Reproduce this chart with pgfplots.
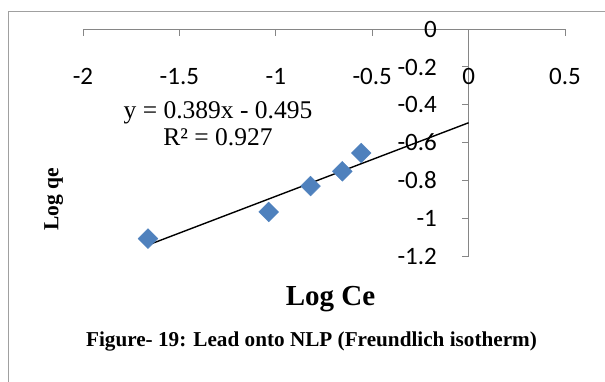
\documentclass[border=0pt]{standalone}
\usepackage{fontspec}
\setmainfont{Liberation Serif}
\newfontfamily\calibri{Carlito}
\usepackage{pgfplots}
\pgfplotsset{compat=1.18}
\definecolor{excelblue}{HTML}{4F81BD}
\definecolor{axisgray}{HTML}{868686}
\definecolor{framegray}{HTML}{A0A0A0}
\begin{document}
\begin{tikzpicture}[x=1pt,y=1pt]
\useasboundingbox (0,0) rectangle (605,381);
\draw[framegray, line width=1.5pt] (8.3,369.3) rectangle (660,-60);
\begin{axis}[
  at={(83pt,125pt)}, anchor=south west,
  scale only axis, width=482pt, height=226.8pt,
  xmin=-2, xmax=0.5, ymin=-1.2, ymax=0,
  axis lines=middle,
  hide obscured x ticks=false, hide obscured y ticks=false,
  axis line style={draw=axisgray, line width=1pt, -},
  xtick={-2,-1.5,-1,-0.5,0,0.5},
  xticklabels={-2,-1.5,-1,-0.5,0,0.5},
  ytick={0,-0.2,-0.4,-0.6,-0.8,-1,-1.2},
  yticklabels={0,-0.2,-0.4,-0.6,-0.8,-1,-1.2},
  tick style={draw=axisgray, line width=1pt},
  major tick length=6.5pt,
  tick align=outside,
  xticklabel style={font=\calibri\fontsize{25}{25}\selectfont, anchor=center, yshift=-41pt},
  yticklabel style={font=\calibri\fontsize{25}{25}\selectfont, anchor=east, inner sep=0pt, xshift=-25pt},
  clip=false,
]
\addplot[only marks, mark=square*, mark size=7pt, mark options={rotate=45, fill=excelblue, draw=none}, color=excelblue]
  coordinates {(-1.663,-1.108) (-1.037,-0.967) (-0.820,-0.830) (-0.655,-0.752) (-0.557,-0.655)};
\addplot[black, line width=1.4pt] coordinates {(-1.663,-1.142) (0,-0.495)};
\end{axis}
\node[anchor=base, font=\fontsize{25.5}{25.5}\selectfont] at (218,262.7) {y = 0.389x - 0.495};
\node[anchor=base, font=\fontsize{25.5}{25.5}\selectfont] at (218,236) {R² = 0.927};
\node[anchor=base, rotate=90, font=\bfseries\fontsize{21.5}{21.5}\selectfont] at (58.3,182) {Log qe};
\node[anchor=base, font=\bfseries\fontsize{29}{29}\selectfont] at (330.5,76) {Log Ce};
\node[anchor=base, font=\bfseries\fontsize{21.2}{21.2}\selectfont] at (311.5,35) {Figure- 19: Lead onto NLP (Freundlich isotherm)};
\end{tikzpicture}
\end{document}
